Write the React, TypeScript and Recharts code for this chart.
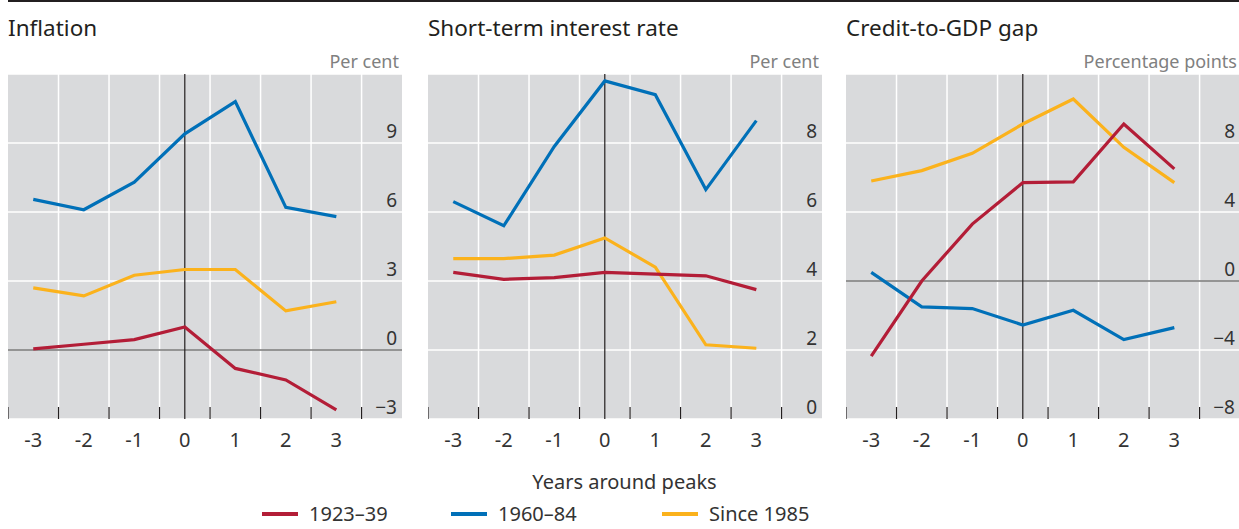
import { CartesianGrid, Line, LineChart, ReferenceLine, XAxis, YAxis } from "recharts";

// years around the peak
const years = [-3, -2, -1, 0, 1, 2, 3];
const xTicks = [-3.5, -3, -2.5, -2, -1.5, -1, -0.5, 0, 0.5, 1, 1.5, 2, 2.5, 3, 3.5];
const gridX = [-2.5, -1.5, -0.5, 0.5, 1.5, 2.5, 3.5];

// Inflation, per cent
const inflation1923 = [0.05, 0.25, 0.45, 1.0, -0.8, -1.3, -2.6];
const inflation1960 = [6.55, 6.1, 7.3, 9.4, 10.8, 6.2, 5.8];
const inflation1985 = [2.7, 2.35, 3.25, 3.5, 3.5, 1.7, 2.1];

// Short-term interest rate, per cent
const rate1923 = [4.25, 4.05, 4.1, 4.25, 4.2, 4.15, 3.75];
const rate1960 = [6.3, 5.6, 7.9, 9.8, 9.4, 6.65, 8.65];
const rate1985 = [4.65, 4.65, 4.75, 5.25, 4.4, 2.15, 2.05];

// Credit-to-GDP gap, percentage points
const gap1923 = [-4.35, 0, 3.3, 5.7, 5.75, 9.1, 6.5];
const gap1960 = [0.5, -1.5, -1.6, -2.55, -1.7, -3.4, -2.7];
const gap1985 = [5.8, 6.4, 7.4, 9.1, 10.55, 7.75, 5.7];

const inflationTicks = [-3, 0, 3, 6, 9];
const rateTicks = [0, 2, 4, 6, 8];
const gapTicks = [-8, -4, 0, 4, 8];

const seriesNames = ["1923–39", "1960–84", "Since 1985"];
const colors = ["#b31d37", "#0070b8", "#fbb21c"];

const FONT = "'Noto Sans', sans-serif";
const PANEL_W = 394;
const PLOT_H = 345;
const PLOT_TOP = 74;

const XTick = (props: any) => {
  const { x, y, payload } = props;
  const v = payload.value;
  if (Number.isInteger(v)) {
    return (
      <text x={x} y={y + 28} textAnchor="middle" fontSize={20} fill="#333" fontFamily={FONT}>
        {String(v)}
      </text>
    );
  }
  return <line x1={x} x2={x} y1={y} y2={y - 12} stroke="#231f20" strokeWidth={1.2} />;
};

const YTick = (props: any) => {
  const { x, y, payload } = props;
  const v = payload.value;
  const label = v < 0 ? "−" + Math.abs(v) : String(v);
  return (
    <text x={x - 5} y={y - 5} textAnchor="end" fontSize={19} fill="#333" fontFamily={FONT}>
      {label}
    </text>
  );
};

interface PanelProps {
  left: number;
  title: string;
  unit: string;
  domain: [number, number];
  ticks: number[];
  zeroLine: boolean;
  a: number[];
  b: number[];
  c: number[];
}

function Panel({ left, title, unit, domain, ticks, zeroLine, a, b, c }: PanelProps) {
  const data = years.map((x, i) => ({ x, a: a[i], b: b[i], c: c[i] }));
  return (
    <>
      <div
        style={{
          position: "absolute",
          left,
          top: 17,
          fontSize: 22.5,
          lineHeight: "22.5px",
          color: "#231f20",
          whiteSpace: "nowrap",
        }}
      >
        {title}
      </div>
      <div
        style={{
          position: "absolute",
          left,
          width: PANEL_W - 3,
          top: 52,
          fontSize: 18,
          lineHeight: "18px",
          color: "#808080",
          textAlign: "right",
          whiteSpace: "nowrap",
        }}
      >
        {unit}
      </div>
      <div style={{ position: "absolute", left, top: PLOT_TOP }}>
        <LineChart width={PANEL_W} height={PLOT_H + 45} data={data} margin={{ top: 0, right: 0, bottom: 0, left: 0 }}>
          <CartesianGrid vertical={false} stroke="#ffffff" strokeWidth={1.5} fill="#d9dadc" fillOpacity={1} />
          <XAxis
            dataKey="x"
            type="number"
            domain={[-3.5, 4.3]}
            ticks={xTicks}
            interval={0}
            allowDataOverflow
            tickLine={false}
            axisLine={false}
            tickSize={0}
            tickMargin={0}
            height={45}
            tick={<XTick />}
          />
          <YAxis
            orientation="right"
            mirror
            domain={domain}
            ticks={ticks}
            interval={0}
            allowDataOverflow
            tickLine={false}
            axisLine={false}
            tickSize={0}
            tickMargin={0}
            tick={<YTick />}
          />
          {gridX.map((gx) => (
            <ReferenceLine key={gx} x={gx} stroke="#ffffff" strokeWidth={1.5} />
          ))}
          {zeroLine && <ReferenceLine y={0} stroke="#333333" strokeWidth={1.2} />}
          <ReferenceLine x={0} stroke="#231f20" strokeWidth={1.2} />
          <Line type="linear" dataKey="b" stroke={colors[1]} strokeWidth={3.2} dot={false} isAnimationActive={false} />
          <Line type="linear" dataKey="c" stroke={colors[2]} strokeWidth={3.2} dot={false} isAnimationActive={false} />
          <Line type="linear" dataKey="a" stroke={colors[0]} strokeWidth={3.2} dot={false} isAnimationActive={false} />
        </LineChart>
      </div>
    </>
  );
}

const legendLeft = [262, 451, 662];

export default function App() {
  return (
    <div
      style={{
        position: "absolute",
        left: 0,
        top: 0,
        width: 1239,
        height: 529,
        background: "#ffffff",
        fontFamily: FONT,
        overflow: "hidden",
      }}
    >
      <div style={{ position: "absolute", left: 8, top: 0, width: 1231, height: 2, background: "#231f20" }} />
      <Panel
        left={8}
        title="Inflation"
        unit="Per cent"
        domain={[-3, 12]}
        ticks={inflationTicks}
        zeroLine
        a={inflation1923}
        b={inflation1960}
        c={inflation1985}
      />
      <Panel
        left={428}
        title="Short-term interest rate"
        unit="Per cent"
        domain={[0, 10]}
        ticks={rateTicks}
        zeroLine={false}
        a={rate1923}
        b={rate1960}
        c={rate1985}
      />
      <Panel
        left={846}
        title="Credit-to-GDP gap"
        unit="Percentage points"
        domain={[-8, 12]}
        ticks={gapTicks}
        zeroLine
        a={gap1923}
        b={gap1960}
        c={gap1985}
      />
      <div
        style={{
          position: "absolute",
          left: 0,
          width: 1249,
          top: 472,
          fontSize: 20,
          lineHeight: "20px",
          color: "#333",
          textAlign: "center",
        }}
      >
        Years around peaks
      </div>
      {seriesNames.map((name, i) => (
        <div
          key={name}
          style={{
            position: "absolute",
            left: legendLeft[i],
            top: 504,
            height: 20,
            display: "flex",
            alignItems: "center",
            fontSize: 20,
            lineHeight: "20px",
            color: "#333",
            whiteSpace: "nowrap",
          }}
        >
          <span style={{ display: "inline-block", width: 36, height: 4, background: colors[i], marginRight: 11 }} />
          <span>{name}</span>
        </div>
      ))}
    </div>
  );
}
